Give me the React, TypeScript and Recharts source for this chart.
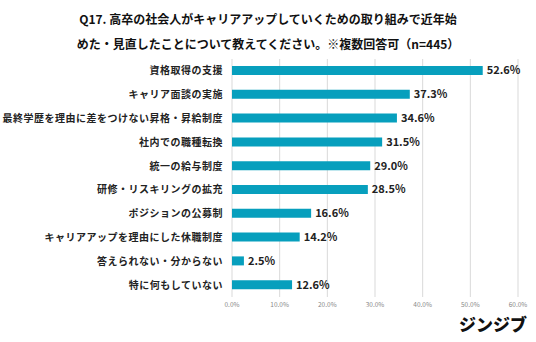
import React from 'react';
import { BarChart, Bar, XAxis, YAxis, CartesianGrid, LabelList } from 'recharts';

const categories = [
  '資格取得の支援',
  'キャリア面談の実施',
  '最終学歴を理由に差をつけない昇格・昇給制度',
  '社内での職種転換',
  '統一の給与制度',
  '研修・リスキリングの拡充',
  'ポジションの公募制',
  'キャリアアップを理由にした休職制度',
  '答えられない・分からない',
  '特に何もしていない',
];
const values = [52.6, 37.3, 34.6, 31.5, 29.0, 28.5, 16.6, 14.2, 2.5, 12.6];
const xTicks = [0, 10, 20, 30, 40, 50, 60];
const titleLines = [
  'Q17. 高卒の社会人がキャリアアップしていくための取り組みで近年始',
  'めた・見直したことについて教えてください。※複数回答可（n=445）',
];
const logoText = 'ジンジブ';

const data = categories.map((c, i) => ({ name: c, value: values[i] }));
const FONT = '"Noto Sans CJK JP", "Noto Sans", sans-serif';

export default function App() {
  return (
    <div style={{ position: 'absolute', left: 0, top: 0, width: 536, height: 342, background: '#fff', fontFamily: FONT }}>
      <div style={{ position: 'absolute', left: 0, top: 6, width: 536, textAlign: 'center', fontSize: 12, fontWeight: 700, color: '#111', lineHeight: '25px' }}>
        <div>{titleLines[0]}</div>
        <div>{titleLines[1]}</div>
      </div>
      <BarChart
        width={536}
        height={342}
        data={data}
        layout="vertical"
        margin={{ top: 59, right: 18, bottom: 25, left: 0 }}
        barCategoryGap={0}
      >
        <CartesianGrid horizontal={false} stroke="#d9d9d9" />
        <XAxis
          type="number"
          domain={[0, 60]}
          ticks={xTicks}
          interval={0}
          height={20}
          axisLine={false}
          tickLine={false}
          tickSize={3}
          tickMargin={2}
          tickFormatter={(v: number) => v.toFixed(1) + '%'}
          tick={{ fontSize: 6.5, fill: '#888', fontFamily: FONT }}
        />
        <YAxis
          type="category"
          dataKey="name"
          width={232}
          axisLine={false}
          tickLine={false}
          tickMargin={3}
          interval={0}
          tick={{ fontSize: 10, fill: '#222', fontWeight: 700, fontFamily: FONT, letterSpacing: 0.5 }}
        />
        <Bar dataKey="value" fill="#079fbd" barSize={9} isAnimationActive={false}>
          <LabelList
            dataKey="value"
            position="right"
            offset={4}
            formatter={(v: number) => v.toFixed(1) + '%'}
            style={{ fontSize: 11, fontWeight: 700, fill: '#222', fontFamily: FONT }}
          />
        </Bar>
      </BarChart>
      <div style={{ position: 'absolute', left: 459, top: 314, fontSize: 17, fontWeight: 900, color: '#111', letterSpacing: 0, lineHeight: '20px' }}>
        {logoText}
      </div>
    </div>
  );
}
